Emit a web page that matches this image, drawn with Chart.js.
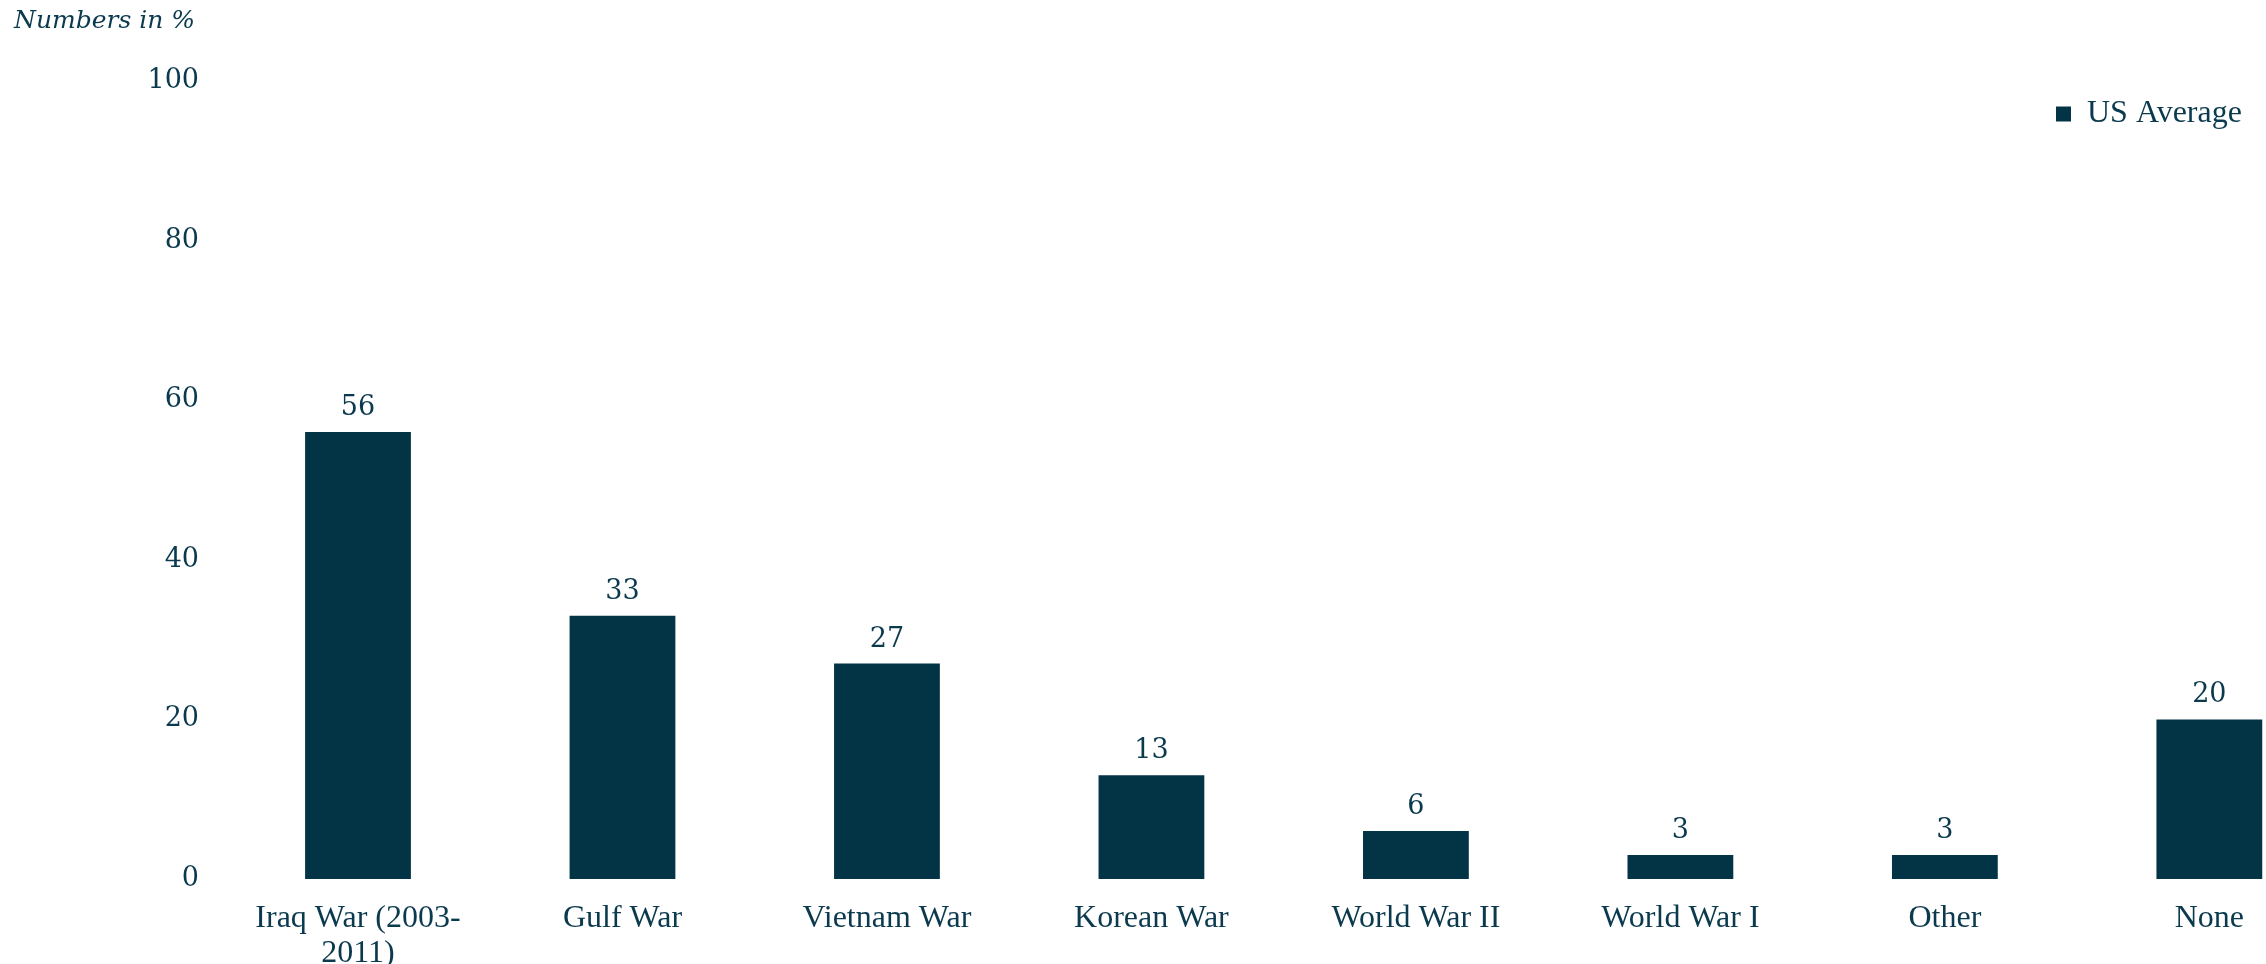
<!DOCTYPE html>
<html>
<head>
<meta charset="utf-8">
<script src="https://cdn.jsdelivr.net/npm/chart.js@4.4.1/dist/chart.umd.min.js"></script>
<style>
  html, body { margin: 0; padding: 0; background: #ffffff; }
  #wrap { width: 2266px; height: 964px; position: relative; }
</style>
</head>
<body>
<div id="wrap"><canvas id="warChart"></canvas></div>
<script>
// Data
const categories = [['Iraq War (2003-', '2011)'], 'Gulf War', 'Vietnam War', 'Korean War', 'World War II', 'World War I', 'Other', 'None'];
const usAverage = [56, 33, 27, 13, 6, 3, 3, 20];
const yTicks = [0, 20, 40, 60, 80, 100];

const navy = '#023446';
const textColor = '#0b3a4e';

// Value labels above bars
const valueLabels = {
    id: 'valueLabels',
    afterDatasetsDraw(chart) {
        const ctx = chart.ctx;
        const meta = chart.getDatasetMeta(0);
        ctx.save();
        ctx.font = '27px "DejaVu Serif"';
        ctx.fillStyle = textColor;
        ctx.textAlign = 'center';
        ctx.textBaseline = 'alphabetic';
        meta.data.forEach((bar, i) => {
            ctx.fillText(usAverage[i], bar.x, bar.y - 17);
        });
        ctx.restore();
    }
};

// Put the legend in the top right corner
const legendCorner = {
    id: 'legendCorner',
    afterLayout(chart) {
        const lg = chart.legend;
        if (!lg) return;
        const w = lg.width, h = lg.height;
        lg.left = 2046;
        lg.right = 2046 + w;
        lg.top = 88;
        lg.bottom = 88 + h;
    }
};

const ctx = document.getElementById('warChart').getContext('2d');

const warChart = new Chart(ctx, {
    type: 'bar',
    data: {
        labels: categories,
        datasets: [{
            label: 'US Average',
            data: usAverage,
            backgroundColor: navy,
            borderWidth: 0,
            categoryPercentage: 1,
            barPercentage: 0.4,
            clip: false
        }]
    },
    options: {
        responsive: true,
        maintainAspectRatio: false,
        animation: false,
        layout: {
            padding: { left: 14, right: 56, top: 0, bottom: 0 }
        },
        scales: {
            x: {
                offset: false,
                afterFit(axis) { axis.height = 85; },
                grid: { display: false, drawTicks: false },
                border: { display: false },
                ticks: {
                    color: textColor,
                    font: { family: '"Liberation Serif"', size: 32, lineHeight: 1.1 },
                    padding: 22,
                    maxRotation: 0,
                    autoSkip: false
                }
            },
            y: {
                min: 0,
                max: 100,
                afterFit(axis) { axis.width = 344; },
                afterBuildTicks(axis) { axis.ticks = yTicks.map(v => ({ value: v })); },
                // invisible tick marks keep the labels away from the bars
                grid: { display: false, drawTicks: true, tickLength: 159 },
                border: { display: false },
                ticks: {
                    color: textColor,
                    font: { family: '"DejaVu Serif"', size: 27 },
                    padding: 0
                }
            }
        },
        plugins: {
            title: {
                display: true,
                text: 'Numbers in %',
                align: 'start',
                color: textColor,
                font: { family: '"DejaVu Serif"', size: 25, style: 'italic', weight: 'normal' },
                padding: { top: 6, bottom: 45 }
            },
            legend: {
                position: 'chartArea',
                fullSize: false,
                align: 'start',
                labels: {
                    color: textColor,
                    font: { family: '"Liberation Serif"', size: 32 },
                    boxWidth: 15,
                    boxHeight: 15,
                    padding: 10
                }
            },
            tooltip: { enabled: false }
        }
    },
    plugins: [valueLabels, legendCorner]
});
</script>
</body>
</html>
